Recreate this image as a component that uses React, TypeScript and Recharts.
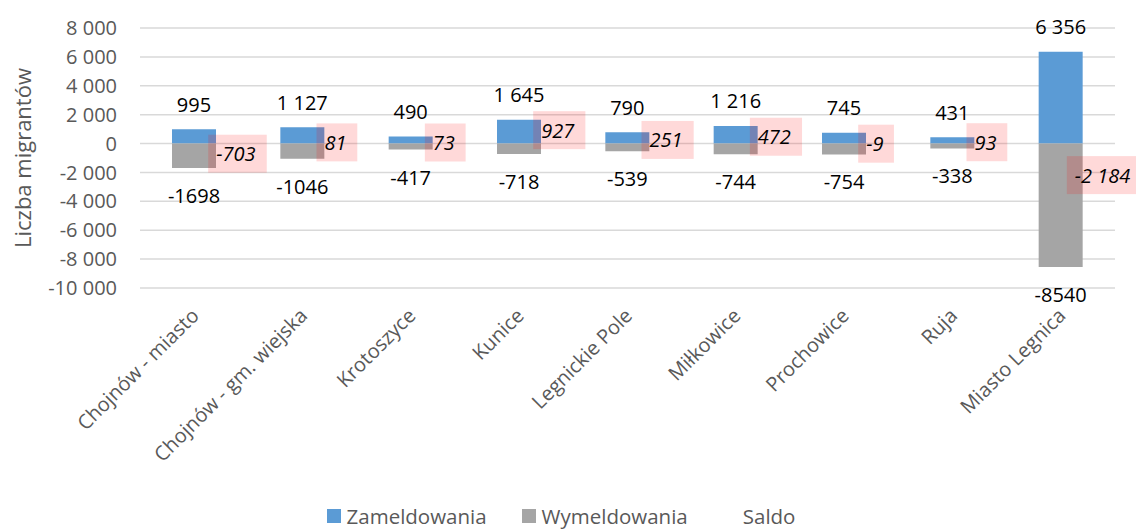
import React from 'react';
import { ComposedChart, Bar, Line, XAxis, YAxis, CartesianGrid, LabelList, Label } from 'recharts';

const categories = [
  'Chojnów - miasto',
  'Chojnów - gm. wiejska',
  'Krotoszyce',
  'Kunice',
  'Legnickie Pole',
  'Miłkowice',
  'Prochowice',
  'Ruja',
  'Miasto Legnica',
];
const zameldowania = [995, 1127, 490, 1645, 790, 1216, 745, 431, 6356];
const wymeldowania = [-1698, -1046, -417, -718, -539, -744, -754, -338, -8540];
const saldo = [-703, 81, 73, 927, 251, 472, -9, 93, -2184];
const yTicks = [-10000, -8000, -6000, -4000, -2000, 0, 2000, 4000, 6000, 8000];

const FONT = '"Open Sans", sans-serif';
const BLUE = '#5B9BD5';
const GRAY = '#A5A5A5';
const TEXT_GRAY = '#595959';

const data = categories.map((name, i) => ({
  name,
  zam: zameldowania[i],
  wym: wymeldowania[i],
  saldo: saldo[i],
}));

// thousands separated with a space, e.g. 6 356
const fmt = (n: number) => {
  const s = Math.abs(n).toString().replace(/\B(?=(\d{3})+(?!\d))/g, ' ');
  return (n < 0 ? '-' : '') + s;
};

// rough text width for Open Sans italic 20px
const textWidth = (s: string) =>
  s.split('').reduce((w, ch) => w + (ch === '-' ? 6.4 : ch === ' ' ? 5.2 : 11.4), 0);

const ZamLabel = (props: any) => {
  const { x, y, width, height, value } = props;
  const top = Math.min(y, y + height);
  return (
    <text x={x + width / 2} y={top - 25} textAnchor="middle" dominantBaseline="central"
      fontFamily={FONT} fontSize={20} fill="#000">
      {fmt(value)}
    </text>
  );
};

const WymLabel = (props: any) => {
  const { x, y, width, height, value } = props;
  const bottom = Math.max(y, y + height);
  return (
    <text x={x + width / 2} y={bottom + 27.5} textAnchor="middle" dominantBaseline="central"
      fontFamily={FONT} fontSize={20} fill="#000">
      {String(value)}
    </text>
  );
};

const SaldoLabel = (props: any) => {
  const { x, y, value } = props;
  const label = fmt(value);
  const boxW = textWidth(label) + 18;
  const boxX = Math.min(x + 14, 1142 - boxW);
  return (
    <g>
      <rect x={boxX} y={y - 19} width={boxW} height={38} fill="#FF0000" fillOpacity={0.15} />
      <text x={boxX + 8} y={y} dominantBaseline="central" fontFamily={FONT} fontSize={20}
        fontStyle="italic" fill="#000">
        {label}
      </text>
    </g>
  );
};

const CategoryTick = (props: any) => {
  const { x, payload } = props;
  const ax = x + 6;
  const ay = 317;
  return (
    <text x={ax} y={ay} transform={`rotate(-45, ${ax}, ${ay})`} textAnchor="end"
      fontFamily={FONT} fontSize={20} fill={TEXT_GRAY}>
      {payload.value}
    </text>
  );
};

const legendItems = [
  { name: 'Zameldowania', color: BLUE },
  { name: 'Wymeldowania', color: GRAY },
  { name: 'Saldo', color: 'transparent' },
];

export default function App() {
  return (
    <div style={{ position: 'absolute', left: 0, top: 0, width: 1136, height: 529, background: '#fff', overflow: 'hidden' }}>
      <ComposedChart
        width={1136}
        height={529}
        data={data}
        stackOffset="sign"
        margin={{ top: 28, right: 21, left: 0, bottom: 41 }}
      >
        <CartesianGrid vertical={false} stroke="#D9D9D9" strokeWidth={1.5} />
        <XAxis
          dataKey="name"
          height={200}
          axisLine={false}
          tickLine={false}
          interval={0}
          tick={<CategoryTick />}
        />
        <YAxis
          width={140}
          domain={[-10000, 8000]}
          ticks={yTicks}
          tickFormatter={fmt}
          axisLine={false}
          tickLine={false}
          tickMargin={17}
          tick={{ fontFamily: FONT, fontSize: 20, fill: TEXT_GRAY }}
        >
          <Label
            content={() => (
              <text x={22} y={158} transform="rotate(-90, 22, 158)" textAnchor="middle"
                dominantBaseline="central" fontFamily={FONT} fontSize={22} fill={TEXT_GRAY}>
                Liczba migrantów
              </text>
            )}
          />
        </YAxis>
        <Bar dataKey="zam" stackId="a" fill={BLUE} barSize={44} isAnimationActive={false}>
          <LabelList dataKey="zam" content={<ZamLabel />} />
        </Bar>
        <Bar dataKey="wym" stackId="a" fill={GRAY} barSize={44} isAnimationActive={false}>
          <LabelList dataKey="wym" content={<WymLabel />} />
        </Bar>
        <Line
          dataKey="saldo"
          stroke="none"
          dot={false}
          activeDot={false}
          legendType="none"
          isAnimationActive={false}
        >
          <LabelList dataKey="saldo" content={<SaldoLabel />} />
        </Line>
      </ComposedChart>
      <div
        style={{
          position: 'absolute',
          left: -7,
          top: 504,
          width: 1136,
          height: 24,
          display: 'flex',
          justifyContent: 'center',
          alignItems: 'center',
          fontFamily: FONT,
          fontSize: 20.5,
          color: TEXT_GRAY,
          gap: 35,
        }}
      >
        {legendItems.map((item) => (
          <div key={item.name} style={{ display: 'flex', alignItems: 'center' }}>
            <span style={{ display: 'inline-block', width: 14, height: 14, background: item.color, marginRight: 6 }} />
            <span style={{ lineHeight: '24px' }}>{item.name}</span>
          </div>
        ))}
      </div>
    </div>
  );
}
